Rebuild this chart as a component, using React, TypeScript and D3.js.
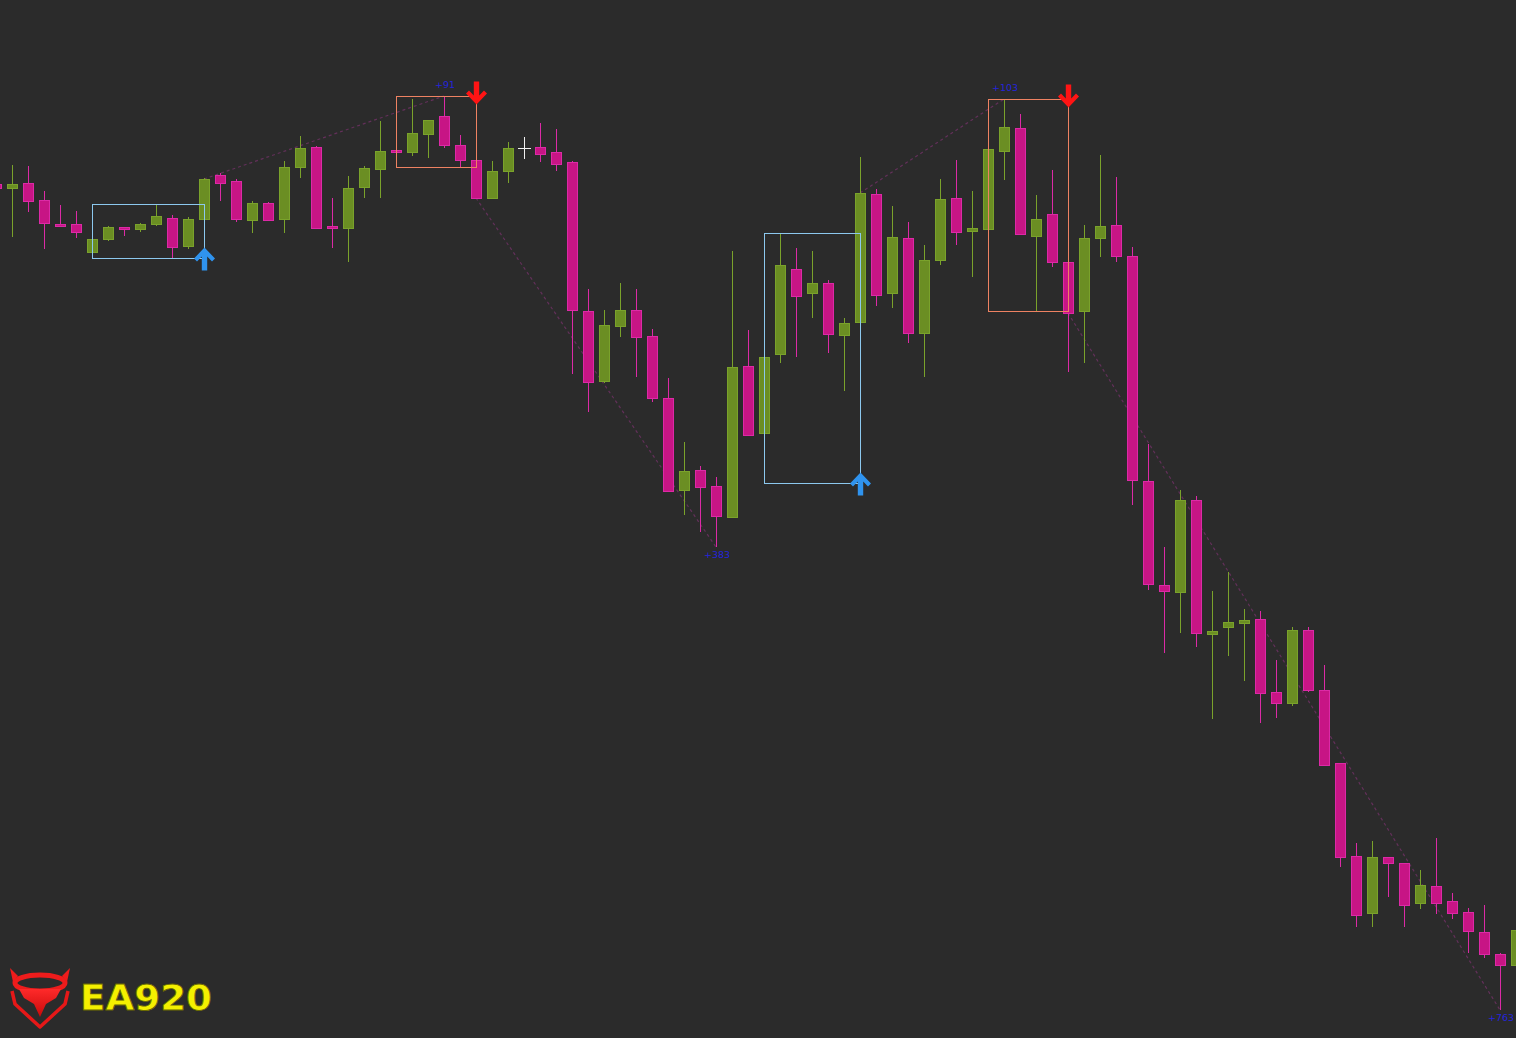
import React from "react";
import * as d3 from "d3";

const W = 1516;
const H = 1038;

// bar slot index (slot 32 is empty in the reference)
const barIndex = [-1,0,1,2,3,4,5,6,7,8,9,10,11,12,13,14,15,16,17,18,19,20,21,22,23,24,25,26,27,28,29,30,31,33,34,35,36,37,38,39,40,41,42,43,44,45,46,47,48,49,50,51,52,53,54,55,56,57,58,59,60,61,62,63,64,65,66,67,68,69,70,71,72,73,74,75,76,77,78,79,80,81,82,83,84,85,86,87,88,89,90,91,92,93,94];
const opens = [854,850,855,838,814,814,786,799,811,809,814,820,792,819,863,857,818,835,819,871,891,812,810,851,869,888,886,904,922,893,878,840,867,891,886,876,727,657,712,728,702,640,548,568,552,521,672,605,684,769,745,755,703,716,844,745,800,705,778,840,807,809,887,910,802,824,776,727,800,813,782,557,453,446,538,404,411,415,419,346,335,408,348,275,182,125,181,175,135,152,137,126,106,84,73];
const highs = [858,873,872,847,833,827,802,812,811,815,834,823,821,860,865,859,837,836,877,902,892,840,862,872,917,911,939,918,942,903,891,877,896,915,909,877,749,728,755,749,709,660,596,572,561,787,708,696,805,790,787,758,720,881,849,832,816,793,859,878,847,898,939,924,843,868,797,813,883,861,791,594,491,548,542,447,466,429,427,378,411,411,373,275,195,197,181,175,168,200,145,130,133,85,113];
const lows = [843,801,826,789,812,800,785,797,802,806,812,780,789,818,837,816,805,817,805,860,809,790,776,840,840,871,882,880,890,871,839,839,855,876,867,664,626,655,701,661,636,547,523,506,491,521,602,555,675,681,720,685,647,708,732,730,695,661,773,793,761,803,858,804,727,771,666,675,781,776,533,448,385,405,391,319,382,357,315,320,332,346,273,171,111,111,141,111,129,124,119,85,80,28,68];
const closes = [850,854,837,815,812,806,799,811,809,814,822,791,819,859,855,819,835,818,871,890,810,810,850,870,887,886,905,918,893,878,840,867,890,884,874,728,656,713,728,701,640,547,567,551,522,671,603,681,773,742,755,704,715,845,743,801,705,778,839,806,810,889,911,804,819,776,725,800,812,782,558,454,447,538,405,407,416,418,345,335,408,348,273,181,123,181,175,133,153,135,125,107,84,73,108];

// signals: box from startBar..signalBar-1, target bar, profit label
const sigType = ["buy", "sell", "buy", "sell"];
const sigStart = [5, 24, 47, 61];
const sigBar = [12, 29, 53, 66];
const sigTarget = [27, 44, 62, 93];
const sigLabel = ["+91", "+383", "+103", "+763"];

const cursorBar = 32;
const cursorPrice = 890;

const BG = "#2b2b2b";
const BULL_FILL = "#6b8e23";
const BULL_LINE = "#7aa22b";
const BEAR_FILL = "#c71585";
const BEAR_LINE = "#dc2aa6";

export default function App() {
  const x = d3.scaleLinear().domain([-1, 94]).range([-4, 1516]);
  const y = d3.scaleLinear().domain([0, 1038]).range([1038, 0]);
  const data = barIndex.map((b, k) => ({ b, o: opens[k], h: highs[k], l: lows[k], c: closes[k] }));
  const byBar = new Map(data.map((d) => [d.b, d]));
  const px = (v: number) => Math.round(v) + 0.5;

  const signals = sigBar.map((s, k) => {
    const range = data.filter((d) => d.b >= sigStart[k] && d.b < s);
    const top = d3.max(range, (d) => d.h) as number;
    const bot = d3.min(range, (d) => d.l) as number;
    const sb = byBar.get(s)!;
    const tb = byBar.get(sigTarget[k])!;
    return { type: sigType[k], start: sigStart[k], bar: s, top, bot, entry: sb.c, target: sigTarget[k], targetPrice: sigType[k] === "buy" ? tb.h : tb.l, label: sigLabel[k] };
  });

  const upArrow = (cx: number, tip: number) =>
    `M${cx},${tip} L${cx + 10.5},${tip + 11} L${cx + 7.5},${tip + 14} L${cx + 2.7},${tip + 9} L${cx + 2.7},${tip + 23} L${cx - 2.7},${tip + 23} L${cx - 2.7},${tip + 9} L${cx - 7.5},${tip + 14} L${cx - 10.5},${tip + 11} Z`;
  const downArrow = (cx: number, tip: number) =>
    `M${cx},${tip} L${cx + 10.5},${tip - 11} L${cx + 7.5},${tip - 14} L${cx + 2.7},${tip - 9} L${cx + 2.7},${tip - 23} L${cx - 2.7},${tip - 23} L${cx - 2.7},${tip - 9} L${cx - 7.5},${tip - 14} L${cx - 10.5},${tip - 11} Z`;

  const line = d3.line<[number, number]>();

  return (
    <svg width={W} height={H} style={{ position: "absolute", left: 0, top: 0, display: "block" }}>
      <rect x={0} y={0} width={W} height={H} fill={BG} />

      {/* trade lines (dotted, behind candles) */}
      {signals.map((s, k) => (
        <path
          key={"tl" + k}
          d={line([[x(s.bar), y(s.entry)], [x(s.target), y(s.targetPrice)]]) || ""}
          stroke="#63305a"
          strokeWidth={1.2}
          strokeDasharray="3,3"
          fill="none"
        />
      ))}

      {/* candles */}
      {data.map((d) => {
        const bull = d.c >= d.o;
        const cx = Math.round(x(d.b));
        const top = Math.round(y(Math.max(d.o, d.c)));
        const bot = Math.round(y(Math.min(d.o, d.c)));
        const lineC = bull ? BULL_LINE : BEAR_LINE;
        const fill = bull ? BULL_FILL : BEAR_FILL;
        return (
          <g key={d.b} shapeRendering="crispEdges">
            <line x1={cx + 0.5} x2={cx + 0.5} y1={Math.round(y(d.h))} y2={Math.round(y(d.l))} stroke={lineC} strokeWidth={1} />
            <rect x={cx - 5 + 0.5} y={top + 0.5} width={10} height={Math.max(1, bot - top)} fill={fill} stroke={lineC} strokeWidth={1} />
          </g>
        );
      })}

      {/* signal boxes, arrows, labels */}
      {signals.map((s, k) => {
        const buy = s.type === "buy";
        const x0 = px(x(s.start));
        const x1 = px(x(s.bar));
        const yt = px(y(s.top));
        const yb = px(y(s.bot));
        const col = buy ? "#8cc8ee" : "#ee8262";
        const ax = Math.round(x(s.bar)) + 0.5;
        const tx = Math.min(x(s.target) + 1, W - 14);
        const ty = buy ? y(s.targetPrice) - 8 : y(s.targetPrice) + 11;
        return (
          <g key={"sg" + k}>
            <rect x={x0} y={yt} width={x1 - x0} height={yb - yt} fill="none" stroke={col} strokeWidth={1} shapeRendering="crispEdges" />
            {buy ? (
              <path d={upArrow(ax, yb - 11)} fill="#2f93ee" />
            ) : (
              <path d={downArrow(ax, yt + 8)} fill="#ff1414" />
            )}
            <text x={tx} y={ty} fill="#2424dc" fontSize={9.5} fontFamily="DejaVu Sans, sans-serif" textAnchor="middle">
              {s.label}
            </text>
          </g>
        );
      })}

      {/* cursor crosshair */}
      <g stroke="#f0f0f0" strokeWidth={1} shapeRendering="crispEdges">
        <line x1={Math.round(x(cursorBar)) + 0.5} x2={Math.round(x(cursorBar)) + 0.5} y1={Math.round(y(cursorPrice)) - 11} y2={Math.round(y(cursorPrice)) + 11} />
        <line x1={Math.round(x(cursorBar)) - 6} x2={Math.round(x(cursorBar)) + 7} y1={Math.round(y(cursorPrice)) + 0.5} y2={Math.round(y(cursorPrice)) + 0.5} />
      </g>

      {/* logo */}
      <g>
        <defs>
          <linearGradient id="bullg" x1="0" y1="0" x2="0" y2="1">
            <stop offset="0" stopColor="#ff2a2a" />
            <stop offset="1" stopColor="#c80a0a" />
          </linearGradient>
        </defs>
        <ellipse cx={40} cy={983} rx={25} ry={8} fill="none" stroke="#ee1c1c" strokeWidth={5} />
        <path d="M10,968 L18,976 L13,982 Z" fill="#ee1c1c" />
        <path d="M70,968 L62,976 L67,982 Z" fill="#ee1c1c" />
        <path d="M12,991 L15,1004 L40,1027 L65,1004 L68,991" fill="none" stroke="#e61818" strokeWidth={3.5} strokeLinejoin="round" />
        <path d="M19,989 L61,989 L56,998 L46,1004 L40,1017 L34,1004 L24,998 Z" fill="url(#bullg)" />
        <text
          x={80}
          y={1010}
          fill="#f4f000"
          stroke="#6b6a00"
          strokeWidth={0.8}
          fontSize={36}
          fontWeight="bold"
          fontFamily="DejaVu Sans, sans-serif"
          textLength={132}
          lengthAdjust="spacingAndGlyphs"
        >
          EA920
        </text>
      </g>
    </svg>
  );
}
